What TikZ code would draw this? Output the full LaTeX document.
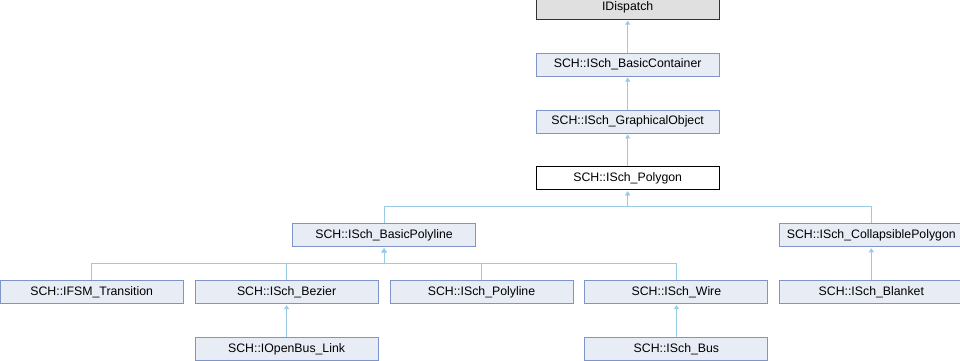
\documentclass[tikz,border=0pt]{standalone}
\usepackage{fontspec}
\setmainfont{Liberation Sans}
\usepackage{xcolor}
\usepackage{tikz}
\usetikzlibrary{arrows.meta,positioning,calc}
\definecolor{schfill}{HTML}{E8ECF5}
\definecolor{schdraw}{HTML}{7F94C8}
\definecolor{schedge}{HTML}{9ACBE6}
\tikzset{
  cls/.style={rectangle, draw=schdraw, fill=schfill, line width=0.9pt, minimum width=183pt, minimum height=23pt, inner sep=0pt, font=\fontsize{12.3}{14}\selectfont},
  clsroot/.style={cls, draw=black!80, fill=black!12},
  clsmain/.style={cls, draw=black, fill=white},
  inherit/.style={draw=schedge, line width=0.9pt, -{Triangle[length=4pt,width=5pt]}, shorten >=1pt},
}
\begin{document}
\begin{tikzpicture}[x=1pt,y=1pt,node distance=33pt and 11pt]
  \useasboundingbox (0,0) rectangle (960,-360);
  % bottom rows
  \node[cls] (transition) at (91.7,-292.2) {SCH::IFSM\_Transition};
  \node[cls,right=of transition] (bezier) {SCH::ISch\_Bezier};
  \node[cls,right=of bezier] (polyline) {SCH::ISch\_Polyline};
  \node[cls,right=of polyline] (wire) {SCH::ISch\_Wire};
  \node[cls,right=of wire] (blanket) {SCH::ISch\_Blanket};
  \node[cls,below=of bezier] (openbus) {SCH::IOpenBus\_Link};
  \node[cls,below=of wire] (bus) {SCH::ISch\_Bus};
  % upper rows
  \coordinate (polymid) at ($(bezier.north)!0.5!(polyline.north)$);
  \node[cls,above=of polymid] (basicpoly) {SCH::ISch\_BasicPolyline};
  \node[cls,above=of blanket] (collapsible) {SCH::ISch\_CollapsiblePolygon};
  \coordinate (topmid) at ($(basicpoly.north)!0.5!(collapsible.north)$);
  \node[clsmain,above=of topmid] (polygon) {SCH::ISch\_Polygon};
  \node[cls,above=of polygon] (graphical) {SCH::ISch\_GraphicalObject};
  \node[cls,above=of graphical] (container) {SCH::ISch\_BasicContainer};
  \node[clsroot,above=of container] (idispatch) {IDispatch};
  % inheritance edges
  \foreach \kid/\base in {transition/basicpoly, bezier/basicpoly, polyline/basicpoly, wire/basicpoly,
      blanket/collapsible, openbus/bezier, bus/wire, basicpoly/polygon, collapsible/polygon,
      polygon/graphical, graphical/container, container/idispatch}
    \draw[inherit] (\kid.north) |- ($(\base.south)+(0,-16.5)$) -| (\base.south);
\end{tikzpicture}
\end{document}
